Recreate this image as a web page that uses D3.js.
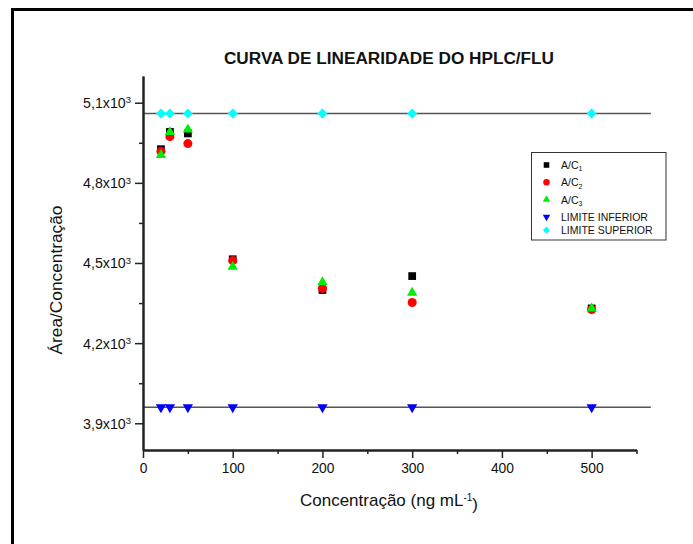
<!DOCTYPE html>
<html>
<head>
<meta charset="utf-8">
<script src="https://cdn.jsdelivr.net/npm/d3@7"></script>
<style>
  html, body { margin: 0; padding: 0; background: #fff; }
  svg { display: block; font-family: "Liberation Sans", Arial, sans-serif; }
</style>
</head>
<body>
<svg id="chart" width="693" height="544"></svg>
<script>
// Concentrations (ng mL-1) and area/concentration ratios (x10^3)
const concentrations = [20, 30, 50, 100, 200, 300, 500];
const ac1 = [4.926, 4.991, 4.985, 4.514, 4.399, 4.451, 4.330];
const ac2 = [4.918, 4.973, 4.947, 4.509, 4.405, 4.352, 4.326];
const ac3 = [4.904, 4.990, 5.000, 4.486, 4.428, 4.389, 4.330];
const limiteInferior = [3.96, 3.96, 3.96, 3.96, 3.96, 3.96, 3.96];
const limiteSuperior = [5.06, 5.06, 5.06, 5.06, 5.06, 5.06, 5.06];

const xMajorTicks = [0, 100, 200, 300, 400, 500];
const xMinorTicks = [50, 150, 250, 350, 450, 550];
const yMajorTicks = [3.9, 4.2, 4.5, 4.8, 5.1];
const yMinorTicks = [4.05, 4.35, 4.65, 4.95];

const titleText = "CURVA DE LINEARIDADE DO HPLC/FLU";

const svg = d3.select("#chart");

// outer frame
svg.append("rect")
  .attr("x", 12.5).attr("y", 9.5)
  .attr("width", 720).attr("height", 560)
  .attr("fill", "none").attr("stroke", "#000").attr("stroke-width", 3);

const x = d3.scaleLinear().domain([0, 550]).range([143, 636.5]);
const y = d3.scaleLinear().domain([3.8, 5.2]).range([450, 76]);

// limit lines
const lineEnd = 566;
[limiteSuperior[0], limiteInferior[0]].forEach(v => {
  svg.append("line")
    .attr("x1", x(0)).attr("x2", x(lineEnd))
    .attr("y1", y(v)).attr("y2", y(v))
    .attr("stroke", "#555").attr("stroke-width", 1.5);
});

// axes
const axisColor = "#222";
function styleAxis(g) {
  g.select(".domain").attr("stroke", axisColor).attr("stroke-width", 2);
  g.selectAll(".tick line").attr("stroke", axisColor).attr("stroke-width", 1.5);
  g.selectAll(".tick text").attr("fill", "#111").style("font-size", "13.8px")
    .style("font-family", "'Liberation Sans', Arial, sans-serif");
}

const xAxisMinor = svg.append("g").attr("transform", `translate(0,${y(3.8)})`)
  .call(d3.axisBottom(x).tickValues(xMinorTicks).tickSize(4).tickSizeOuter(0).tickFormat(""));
styleAxis(xAxisMinor);
const xAxis = svg.append("g").attr("transform", `translate(0,${y(3.8)})`)
  .call(d3.axisBottom(x).tickValues(xMajorTicks).tickSize(8).tickSizeOuter(0).tickPadding(5));
styleAxis(xAxis);

const yAxisMinor = svg.append("g").attr("transform", `translate(${x(0)},0)`)
  .call(d3.axisLeft(y).tickValues(yMinorTicks).tickSize(4).tickSizeOuter(0).tickFormat(""));
styleAxis(yAxisMinor);
const yAxis = svg.append("g").attr("transform", `translate(${x(0)},0)`)
  .call(d3.axisLeft(y).tickValues(yMajorTicks).tickSize(8).tickSizeOuter(0).tickFormat(""));
styleAxis(yAxis);

// y tick labels like "5,1x10³"
yAxis.selectAll(".tick").each(function(d) {
  const t = d3.select(this).append("text")
    .attr("x", -12).attr("dy", "0.35em")
    .attr("text-anchor", "end").attr("fill", "#111")
    .style("font-size", "14.2px");
  t.append("tspan").text(d3.format(".1f")(d).replace(".", ",") + "x10");
  t.append("tspan").attr("dy", "-0.5em").style("font-size", "9.5px").text("3");
});

// title
svg.append("text")
  .attr("x", 389).attr("y", 64)
  .attr("text-anchor", "middle")
  .style("font-size", "17.2px").style("font-weight", "bold")
  .attr("fill", "#111")
  .text(titleText);

// axis titles
const xl = svg.append("text")
  .attr("x", 389).attr("y", 506)
  .attr("text-anchor", "middle")
  .style("font-size", "17px").attr("fill", "#111");
xl.append("tspan").text("Concentração (ng mL");
xl.append("tspan").attr("dy", "-0.55em").style("font-size", "10px").text("-1");
xl.append("tspan").attr("dy", "0.55em").text(")");

svg.append("text")
  .attr("transform", "translate(62,280) rotate(-90)")
  .attr("text-anchor", "middle")
  .style("font-size", "17.3px").attr("fill", "#111")
  .text("Área/Concentração");

// series
const series = [
  { name: "LIMITE SUPERIOR", sub: "", values: limiteSuperior, color: "#00ffff", shape: "diamond" },
  { name: "LIMITE INFERIOR", sub: "", values: limiteInferior, color: "#0000ff", shape: "down" },
  { name: "A/C", sub: "1", values: ac1, color: "#000000", shape: "square" },
  { name: "A/C", sub: "2", values: ac2, color: "#ff0000", shape: "circle" },
  { name: "A/C", sub: "3", values: ac3, color: "#00ee00", shape: "up" }
];

function symbolPath(shape, scale) {
  const s = scale || 1;
  switch (shape) {
    case "square": return { d: d3.symbol(d3.symbolSquare, 60 * s * s)(), rot: 0 };
    case "circle": return { d: d3.symbol(d3.symbolCircle, 64 * s * s)(), rot: 0 };
    case "up": return { d: d3.symbol(d3.symbolTriangle, 46 * s * s)(), rot: 0 };
    case "down": return { d: d3.symbol(d3.symbolTriangle, 46 * s * s)(), rot: 180 };
    case "diamond": return { d: d3.symbol(d3.symbolSquare, 50 * s * s)(), rot: 45 };
  }
}

series.forEach(sr => {
  const p = symbolPath(sr.shape, 1);
  svg.append("g").selectAll("path")
    .data(concentrations.map((c, i) => [c, sr.values[i]]))
    .join("path")
    .attr("d", p.d)
    .attr("transform", d => `translate(${x(d[0])},${y(d[1])}) rotate(${p.rot})`)
    .attr("fill", sr.color);
});

// legend
const legendOrder = [series[2], series[3], series[4], series[1], series[0]];
svg.append("rect")
  .attr("x", 531.5).attr("y", 152.5)
  .attr("width", 134.5).attr("height", 87.5)
  .attr("fill", "#fff").attr("stroke", "#333").attr("stroke-width", 1);

let ly = 165;
legendOrder.forEach(sr => {
  const p = symbolPath(sr.shape, 0.72);
  svg.append("path")
    .attr("d", p.d)
    .attr("transform", `translate(546.5,${ly}) rotate(${p.rot})`)
    .attr("fill", sr.color);
  const t = svg.append("text")
    .attr("x", 561).attr("y", ly + 4)
    .style("font-size", "10.5px").attr("fill", "#111");
  t.append("tspan").text(sr.name);
  if (sr.sub) {
    t.append("tspan").attr("dy", "0.35em").style("font-size", "7px").text(sr.sub);
  }
  ly += sr.sub ? 17.3 : 13.3;
});
</script>
</body>
</html>
